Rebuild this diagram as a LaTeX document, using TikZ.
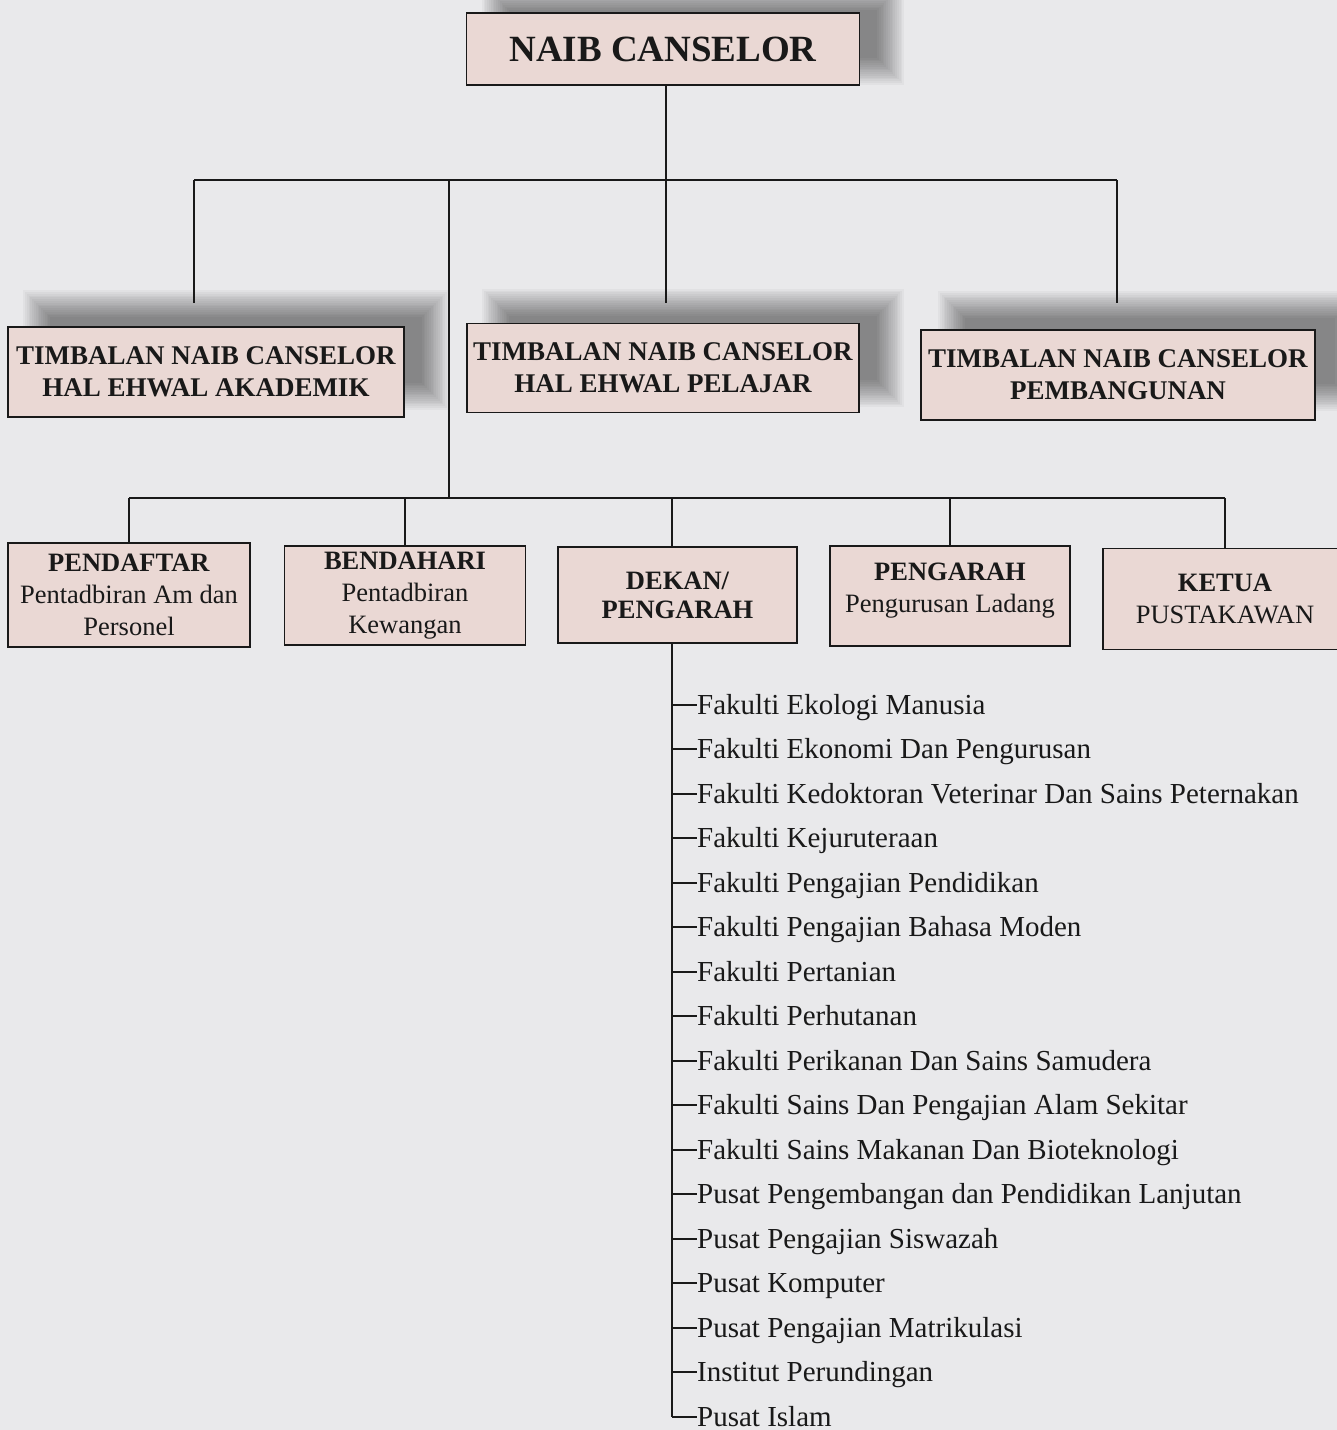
\documentclass[tikz,border=0pt]{standalone}
\usepackage{fontspec}
\setmainfont{Liberation Serif}
\usetikzlibrary{calc}
\pgfdeclarelayer{bg}
\pgfdeclarelayer{shadow}
\pgfsetlayers{bg,shadow,main}
\definecolor{paper}{RGB}{233,233,235}
\definecolor{boxfill}{RGB}{234,216,212}
\definecolor{ink}{RGB}{25,25,25}
\newcommand{\softshadow}[3]{%
  \foreach \k in {0,...,15}{%
    \fill[black, opacity=0.03] ($(#1.south west)+(#2-14+1.8*\k, #3+14-1.8*\k)$) rectangle ($(#1.north east)+(#2+14-1.8*\k, #3-14+1.8*\k)$);
  }}
\tikzset{
  orgbox/.style={draw=ink, line width=1.5pt, fill=boxfill, inner sep=0pt, align=center, text=ink},
  conn/.style={draw=ink, line width=2pt},
  item/.style={anchor=west, inner sep=0pt, text height=19pt, text depth=0pt, text=ink, font=\fontsize{29}{32}\selectfont},
  tncfont/.style={font=\fontsize{27}{32}\selectfont\bfseries},
  rowfont/.style={font=\fontsize{26.5}{32}\selectfont},
}
\begin{document}
\begin{tikzpicture}[x=1pt, y=-1pt]
\useasboundingbox (0,0) rectangle (1337,1430);
\begin{pgfonlayer}{bg}
\fill[paper] (0,0) rectangle (1337,1430);
\end{pgfonlayer}
% top
\node[orgbox, minimum width=393pt, minimum height=72pt, font=\fontsize{37}{40}\selectfont\bfseries] (nc) at (663,49) {NAIB CANSELOR};
% row 2
\node[orgbox, tncfont, minimum width=396pt, minimum height=90pt] (tA) at (206,372) {TIMBALAN NAIB CANSELOR\\HAL EHWAL AKADEMIK};
\node[orgbox, tncfont, minimum width=392pt, minimum height=89pt] (tP) at (663,368) {TIMBALAN NAIB CANSELOR\\HAL EHWAL PELAJAR};
\node[orgbox, tncfont, minimum width=394pt, minimum height=90pt] (tB) at (1118,375) {TIMBALAN NAIB CANSELOR\\PEMBANGUNAN};
% row 3
\node[orgbox, rowfont, minimum width=242pt, minimum height=104pt] (r1) at (129,595) {\textbf{PENDAFTAR}\\Pentadbiran Am dan\\Personel};
\node[orgbox, rowfont, minimum width=241pt, minimum height=99pt] (r2) at (405,595.5) {\textbf{BENDAHARI}\\Pentadbiran\\Kewangan};
\node[orgbox, rowfont, minimum width=239pt, minimum height=96pt, font=\fontsize{26.5}{29}\selectfont\bfseries] (r3) at (677.5,595) {DEKAN/\\PENGARAH};
\node[orgbox, rowfont, minimum width=240pt, minimum height=100pt] (r4) at (950,596) {\textbf{PENGARAH}\\Pengurusan Ladang\\[-16pt]\mbox{}};
\node[orgbox, rowfont, minimum width=244pt, minimum height=101pt] (r5) at (1225,599) {\textbf{KETUA}\\PUSTAKAWAN};
% shadows
\begin{pgfonlayer}{shadow}
\softshadow{nc}{30}{-15}
\softshadow{tA}{30}{-22}
\softshadow{tP}{30}{-20}
\softshadow{tB}{32}{-24}
\end{pgfonlayer}
% coordinates
\coordinate (h1) at (666,180);
\coordinate (h2) at (449,498);
\coordinate (tx) at (672,0);
% level 1 connectors
\draw[conn] (nc.south -| h1) -- (h1);
\draw[conn] (194,180) -- (1117,180);
\draw[conn] (194,180) -- (194,303);
\draw[conn] (h1) -- (666,303);
\draw[conn] (1117,180) -- (1117,303);
% to level 3
\draw[conn] (h2 |- h1) -- (h2);
\draw[conn] (r1.north |- h2) -- (r5.north |- h2);
\draw[conn] (r1.north |- h2) -- (r1.north);
\draw[conn] (r2.north |- h2) -- (r2.north);
\draw[conn] (tx |- h2) -- (tx |- r3.north);
\draw[conn] (r4.north |- h2) -- (r4.north);
\draw[conn] (r5.north |- h2) -- (r5.north);
% list
\foreach \t [count=\i from 0] in {Fakulti Ekologi Manusia, Fakulti Ekonomi Dan Pengurusan, Fakulti Kedoktoran Veterinar Dan Sains Peternakan, Fakulti Kejuruteraan, Fakulti Pengajian Pendidikan, Fakulti Pengajian Bahasa Moden, Fakulti Pertanian, Fakulti Perhutanan, Fakulti Perikanan Dan Sains Samudera, Fakulti Sains Dan Pengajian Alam Sekitar, Fakulti Sains Makanan Dan Bioteknologi, Pusat Pengembangan dan Pendidikan Lanjutan, Pusat Pengajian Siswazah, Pusat Komputer, Pusat Pengajian Matrikulasi, Institut Perundingan, Pusat Islam}{
  \node[item] (it\i) at (697, {705+int(44.5*\i)}) {\t};
  \draw[conn] (it\i.west -| tx) -- (it\i.west);
}
\draw[conn] (tx |- r3.south) -- (tx |- it16.west);
\end{tikzpicture}
\end{document}
